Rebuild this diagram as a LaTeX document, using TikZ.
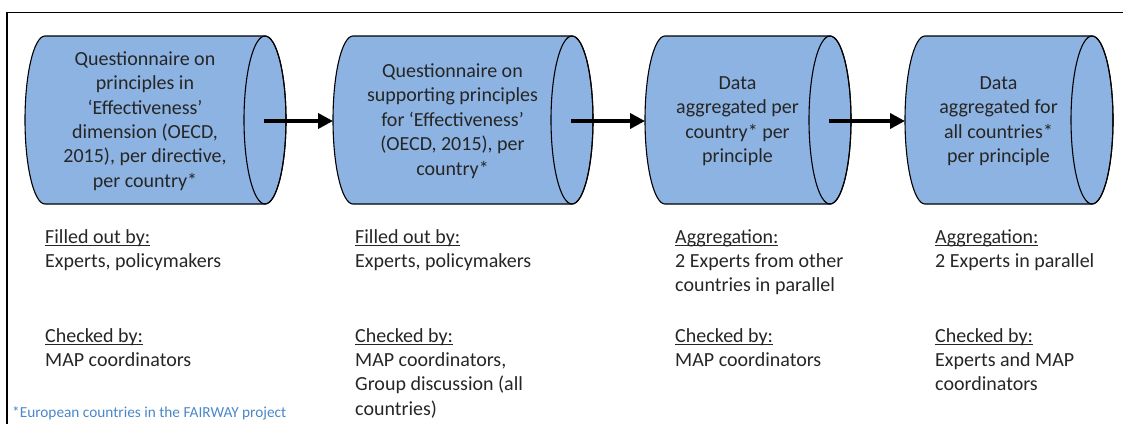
\documentclass[tikz,border=0pt]{standalone}
\usepackage{fontspec}
\setmainfont{Carlito}
\usetikzlibrary{arrows.meta}
\definecolor{cylblue}{HTML}{8DB3E2}
\definecolor{noteblue}{HTML}{4A86C8}
\newcommand\ulx[1]{\setbox0\hbox{#1}\rlap{\rule[-2.6pt]{\wd0}{1.1pt}}\box0}
\newcommand\cylpath[2]{%
  \path[cyl] (#1,36) -- (#2,36) arc[start angle=270,end angle=450,x radius=21,y radius=84]
    -- (#1,204) arc[start angle=90,end angle=270,x radius=20,y radius=84] -- cycle;
  \draw[line width=1.1pt] (#2,120) ellipse[x radius=21,y radius=84];}
\begin{document}
\begin{tikzpicture}[x=1pt,y=-1pt,
  cyl/.style={fill=cylblue,draw=black,line width=1.1pt},
  lab/.style={font=\fontsize{20}{24.4}\selectfont,align=center,inner sep=0pt,text=black!85},
  col/.style={font=\fontsize{20}{24.4}\selectfont,anchor=base west,inner sep=0pt,text=black!85},
  flow/.style={line width=3.6pt,-{Triangle[length=15pt,width=15pt]}}]
\useasboundingbox (0,0) rectangle (1123,424);
\draw[line width=1.3pt] (7,424) -- (7,12.5) -- (1123,12.5);
% cylinders
\cylpath{45}{265}
\cylpath{353}{572}
\cylpath{665}{830}
\cylpath{925}{1092}
\node[lab] (t1) at (145,121) {Questionnaire on\\principles in\\‘Effectiveness’\\dimension (OECD,\\2015), per directive,\\per country*};
\node[lab] (t2) at (452.5,121) {Questionnaire on\\supporting principles\\for ‘Effectiveness’\\(OECD, 2015), per\\country*};
\node[lab] (t3) at (737.5,121) {Data\\aggregated per\\country* per\\principle};
\node[lab] (t4) at (998.5,121) {Data\\aggregated for\\all countries*\\per principle};
% connectors
\coordinate (c1e) at (264,121);
\coordinate (c2w) at (333,121);
\coordinate (c2e) at (571,121);
\coordinate (c3w) at (645,121);
\coordinate (c3e) at (829,121);
\coordinate (c4w) at (905,121);
\draw[flow] (c1e) -- (c2w);
\draw[flow] (c2e) -- (c3w);
\draw[flow] (c3e) -- (c4w);
% columns
\node[col] (f1) at (45,243) {\vtop{\hbox{\ulx{Filled out by:}}\hbox{Experts, policymakers}}};
\node[col] (k1) at (45,342) {\vtop{\hbox{\ulx{Checked by:}}\hbox{MAP coordinators}}};
\node[col] (f2) at (355,243) {\vtop{\hbox{\ulx{Filled out by:}}\hbox{Experts, policymakers}}};
\node[col] (k2) at (355,342) {\vtop{\hbox{\ulx{Checked by:}}\hbox{MAP coordinators,}\hbox{Group discussion (all}\hbox{countries)}}};
\node[col] (f3) at (675,243) {\vtop{\hbox{\ulx{Aggregation:}}\hbox{2 Experts from other}\hbox{countries in parallel}}};
\node[col] (k3) at (675,342) {\vtop{\hbox{\ulx{Checked by:}}\hbox{MAP coordinators}}};
\node[col] (f4) at (935,243) {\vtop{\hbox{\ulx{Aggregation:}}\hbox{2 Experts in parallel}}};
\node[col] (k4) at (935,342) {\vtop{\hbox{\ulx{Checked by:}}\hbox{Experts and MAP}\hbox{coordinators}}};
% footnote
\node[anchor=base west,inner sep=0pt,font=\fontsize{15.3}{18}\selectfont,text=noteblue] (note) at (12,417) {*European countries in the FAIRWAY project};
\end{tikzpicture}
\end{document}
